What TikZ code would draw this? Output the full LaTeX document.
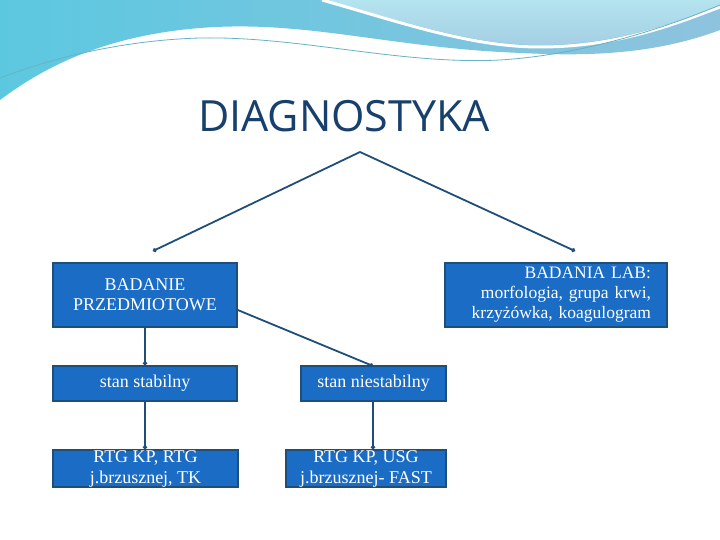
\documentclass[tikz,border=0pt]{standalone}
\usepackage{fontspec}
\setmainfont{Liberation Serif}
\newfontfamily\titlefont{Open Sans}
\usetikzlibrary{arrows.meta}
\definecolor{boxfill}{HTML}{1A6CC4}
\definecolor{boxline}{HTML}{1F4E79}
\definecolor{conn}{HTML}{1F4E79}
\definecolor{titlec}{HTML}{17406D}
\definecolor{waveA}{HTML}{5CC8E0}
\definecolor{waveB}{HTML}{8EC3DE}
\definecolor{waveC}{HTML}{B4E4EE}
\tikzset{
  box/.style={draw=boxline, line width=1.5pt, fill=boxfill, text=white, font=\fontsize{18}{20}\selectfont, align=center, inner sep=0pt},
  conn/.style={draw=conn, line width=1.8pt, -{Circle[length=4pt]}}
}
\begin{document}
\begin{tikzpicture}[x=1pt,y=-1pt]
\useasboundingbox (0,0) rectangle (720,540);
\fill[white] (0,0) rectangle (720,540);
% top wave decoration
\shade[left color=waveA, right color=waveB] (0,0) -- (720,0) -- (720,30) .. controls (640,60) and (560,55) .. (500,52) .. controls (380,45) and (300,20) .. (200,28) .. controls (100,36) and (40,70) .. (0,100) -- cycle;
\shade[top color=waveC, bottom color=waveB!80] (325,0) .. controls (400,20) and (470,45) .. (540,45) .. controls (620,45) and (680,20) .. (720,5) -- (720,0) -- cycle;
\draw[white, line width=3pt] (322,0) .. controls (400,22) and (470,47) .. (540,47) .. controls (620,47) and (680,22) .. (720,7);
\draw[waveA!70!gray, line width=0.8pt] (0,78) .. controls (60,55) and (130,40) .. (200,38) .. controls (300,36) and (400,65) .. (500,60) .. controls (580,55) and (660,30) .. (720,5);
\node[font=\titlefont\fontsize{43}{46}\selectfont, text=titlec] (title) at (344,116) {DIAGNOSTYKA};
% nodes
\coordinate (apex) at (360,152);
\coordinate (lend) at (153,251);
\coordinate (rend) at (575,251);
\node[box, minimum width=184pt, minimum height=64pt] (bp) at (145,295) {BADANIE\\PRZEDMIOTOWE};
\node[box, minimum width=222pt, minimum height=64pt, align=right, text width=190pt, inner xsep=16pt, font=\fontsize{17.5}{20}\selectfont] (lab) at (556,295) {BADANIA LAB:\\ morfologia, grupa krwi,\\ krzyżówka, koagulogram};
\node[box, minimum width=184pt, minimum height=35pt] (ss) at (145,383.5) {stan stabilny};
\node[box, minimum width=145pt, minimum height=35pt] (sn) at (373.5,383.5) {stan niestabilny};
\node[box, minimum width=185pt, minimum height=37pt, font=\fontsize{18}{21}\selectfont] (r1) at (145.5,468.5) {RTG KP, RTG\\ j.brzusznej, TK};
\node[box, minimum width=160pt, minimum height=37pt, font=\fontsize{18}{21}\selectfont] (r2) at (366,468.5) {RTG KP, USG\\ j.brzusznej- FAST};
% connectors
\draw[conn] (apex) -- (lend);
\draw[conn] (apex) -- (rend);
\draw[conn] (bp.east |- 0,310) -- (373,366);
\draw[conn] (145,327) -- (ss.north);
\draw[conn] (ss.south) -- (r1.north -| 145,0);
\draw[conn] (373,401) -- (r2.north -| 373,0);
\end{tikzpicture}
\end{document}
